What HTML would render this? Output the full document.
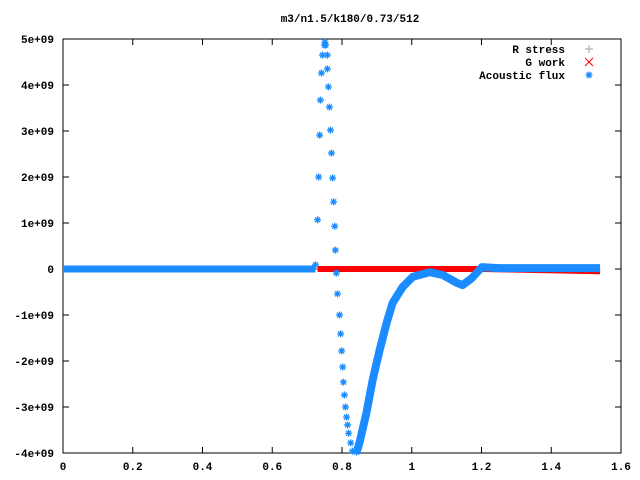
<!DOCTYPE html>
<html><head><meta charset="utf-8"><style>
body{margin:0;background:#fff;}
svg{display:block;font-family:"Liberation Mono",monospace;font-weight:bold;font-size:11px;}
</style></head><body>
<svg width="640" height="480">
<g id="axes"></g><g id="series"></g><g id="legend"></g>
<text x="350" y="22" text-anchor="middle">m3/n1.5/k180/0.73/512</text>
</svg>
<script>
const xTicks=[0,0.2,0.4,0.6,0.8,1,1.2,1.4,1.6];
const xTickLabels=["0","0.2","0.4","0.6","0.8","1","1.2","1.4","1.6"];
const yTicks=[-4e9,-3e9,-2e9,-1e9,0,1e9,2e9,3e9,4e9,5e9];
const yTickLabels=["-4e+09","-3e+09","-2e+09","-1e+09","0","1e+09","2e+09","3e+09","4e+09","5e+09"];
// sparse acoustic flux points (steep region)
const fluxSparseX=[0.724,0.730,0.733,0.736,0.738,0.741,0.744,0.750,0.751,0.753,0.758,0.758,0.761,0.764,0.767,0.770,0.773,0.776,0.779,0.781,0.784,0.787,0.793,0.796,0.799,0.802,0.804,0.807,0.810,0.813,0.816,0.819,0.825,0.830,0.842];
const fluxSparseY=[0.09e9,1.07e9,2.0e9,2.91e9,3.67e9,4.26e9,4.65e9,4.87e9,4.93e9,4.87e9,4.65e9,4.35e9,3.96e9,3.52e9,3.02e9,2.52e9,1.98e9,1.46e9,0.93e9,0.41e9,-0.09e9,-0.54e9,-1.0e9,-1.41e9,-1.78e9,-2.13e9,-2.46e9,-2.74e9,-3.0e9,-3.22e9,-3.39e9,-3.57e9,-3.78e9,-3.96e9,-3.98e9];
// dense acoustic flux curve
const fluxDenseX=[0.842,0.850,0.870,0.888,0.908,0.928,0.945,0.974,1.003,1.051,1.089,1.129,1.146,1.172,1.201,1.25,1.54];
const fluxDenseY=[-3.98e9,-3.78e9,-3.13e9,-2.41e9,-1.76e9,-1.17e9,-0.74e9,-0.39e9,-0.17e9,-0.07e9,-0.13e9,-0.30e9,-0.35e9,-0.2e9,0.04e9,0.02e9,0.02e9];
const fluxFlatX=[0,0.724];
const fluxFlatY=[0,0];
const gworkX=[0.73,1.2,1.54];
const gworkY=[0,0,-0.05e9];

const L=63,R=621,T=39,B=453;
const sx=v=>L+(v-0)/(1.6-0)*(R-L);
const sy=v=>B-(v+4e9)/(9e9)*(B-T);
const NS="http://www.w3.org/2000/svg";
function mk(tag,attrs,parent){const e=document.createElementNS(NS,tag);for(const k in attrs)e.setAttribute(k,attrs[k]);parent.appendChild(e);return e;}
const axes=document.getElementById('axes'),series=document.getElementById('series'),legend=document.getElementById('legend');

const frame=mk('rect',{x:L,y:T,width:R-L,height:B-T,fill:'none',stroke:'#000','stroke-width':1},axes);


xTicks.forEach((v,i)=>{
  const x=sx(v);
  const t=mk('path',{d:`M${x} ${B}v-6M${x} ${T}v6`,stroke:'#000'},axes);
  
  
  const l=mk('text',{x:x,y:B+17,'text-anchor':'middle'},axes);l.textContent=xTickLabels[i];
  
  
});
yTicks.forEach((v,i)=>{
  const y=sy(v);
  const t=mk('path',{d:`M${L} ${y}h6M${R} ${y}h-6`,stroke:'#000'},axes);
  
  
  const l=mk('text',{x:L-9,y:y+4,'text-anchor':'end'},axes);l.textContent=yTickLabels[i];
  
  
});
function star(x,y,c,p){
  const s=mk('path',{d:`M${x-3.5} ${y}h7M${x} ${y-3.5}v7M${x-2.5} ${y-2.5}l5 5M${x-2.5} ${y+2.5}l5 -5`,stroke:c,'stroke-width':1.3},p);
  
  
}
// R stress (gray, mostly hidden)
const rs=mk('line',{x1:sx(0),y1:sy(0),x2:sx(1.54),y2:sy(0),stroke:'#a0a0a0','stroke-width':2},series);


// flat flux
const fl=mk('polyline',{points:fluxFlatX.map((x,i)=>sx(x)+','+sy(fluxFlatY[i])).join(' '),fill:'none',stroke:'#1a8cff','stroke-width':7},series);


// G work
const gw=mk('polyline',{points:gworkX.map((x,i)=>sx(x)+','+sy(gworkY[i])).join(' '),fill:'none',stroke:'#ff0000','stroke-width':6},series);


// dense flux
const dn=mk('polyline',{points:fluxDenseX.map((x,i)=>sx(x)+','+sy(fluxDenseY[i])).join(' '),fill:'none',stroke:'#1a8cff','stroke-width':8,'stroke-linejoin':'round'},series);


fluxSparseX.forEach((x,i)=>star(sx(x),sy(fluxSparseY[i]),'#1a8cff',series));
// legend
const items=[["R stress","#a0a0a0","plus"],["G work","#ff0000","x"],["Acoustic flux","#1a8cff","star"]];
items.forEach((it,i)=>{
  const y=49+i*13;
  const t=mk('text',{x:565,y:y+4,'text-anchor':'end'},legend);t.textContent=it[0];
  
  
  const x=589;
  if(it[2]=='plus'){const m=mk('path',{d:`M${x-4} ${y}h8M${x} ${y-4}v8`,stroke:it[1]},legend);}
  else if(it[2]=='x'){const m=mk('path',{d:`M${x-4} ${y-4}l8 8M${x-4} ${y+4}l8 -8`,stroke:it[1]},legend);}
  else star(x,y,it[1],legend);
});
</script>
</body></html>
